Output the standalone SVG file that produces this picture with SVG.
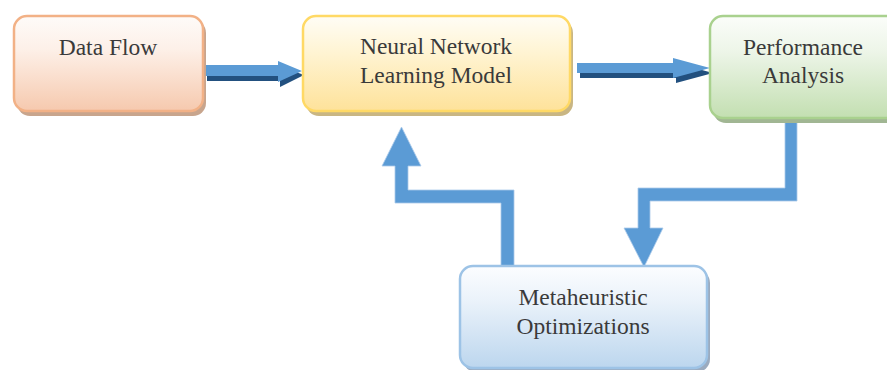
<svg xmlns="http://www.w3.org/2000/svg" width="887" height="370" viewBox="0 0 887 370">
<defs>
<linearGradient id="gOrange" x1="0" y1="0" x2="0" y2="1">
<stop offset="0" stop-color="#fefbf9"/><stop offset="0.35" stop-color="#fdf0e8"/><stop offset="1" stop-color="#f6c9ae"/>
</linearGradient>
<linearGradient id="gYellow" x1="0" y1="0" x2="0" y2="1">
<stop offset="0" stop-color="#fffdf6"/><stop offset="0.35" stop-color="#fff5d6"/><stop offset="1" stop-color="#fee29a"/>
</linearGradient>
<linearGradient id="gGreen" x1="0" y1="0" x2="0" y2="1">
<stop offset="0" stop-color="#fbfdfa"/><stop offset="0.35" stop-color="#edf5e8"/><stop offset="1" stop-color="#c3dfb1"/>
</linearGradient>
<linearGradient id="gBlue" x1="0" y1="0" x2="0" y2="1">
<stop offset="0" stop-color="#fcfdff"/><stop offset="0.35" stop-color="#eaf2fa"/><stop offset="1" stop-color="#bcd6ee"/>
</linearGradient>
<style>
.lbl{font-family:"Liberation Serif","Times New Roman",serif;font-size:23.5px;fill:#3a3a3a;text-anchor:middle}
.box{stroke-width:2.5}
.flat{fill:#5b9bd5;stroke:#a9c9ea;stroke-width:0.8}
.lite{fill:#5b9bd5}
.dark{fill:#22507f}
</style>
</defs>

<g id="connectors">
<!-- Data Flow -> Neural -->
<polygon class="dark" points="207,70 280,70 280,66 304,75 280,87 280,81 207,81"/>
<polygon class="lite" points="205,65 278,65 278,61 302,71 278,82 278,76 205,76"/>
<!-- Neural -> Performance -->
<polygon class="dark" points="580,68 676,68 676,63 713,73 676,83 676,78 580,78"/>
<polygon class="lite" points="577,63 673,63 673,58 710,68 673,78 673,73 577,73"/>
<!-- Meta -> Neural feedback -->
<polygon class="flat" points="501,266 514,266 514,190 408,190 408,166 421,166 401.5,127 382,166 395,166 395,203 501,203"/>
<!-- Performance -> Meta -->
<polygon class="flat" points="785,121 797,121 797,201 650,201 650,228 663,228 644,267 624,228 638,228 638,188 785,188"/>
</g>

<g id="data-flow">
<rect x="17" y="20" width="189" height="96" rx="13" fill="#c8a58d"/>
<rect class="box" x="14" y="16" width="189" height="95" rx="13" fill="url(#gOrange)" stroke="#f2b186"/>
<text class="lbl" x="108" y="55">Data Flow</text>
</g>

<g id="neural-network">
<rect x="306" y="20" width="267" height="96" rx="13" fill="#c9b683"/>
<rect class="box" x="303" y="16" width="267" height="95" rx="13" fill="url(#gYellow)" stroke="#ffd965"/>
<text class="lbl" x="436" y="54">Neural Network</text>
<text class="lbl" x="436" y="83">Learning Model</text>
</g>

<g id="performance">
<rect x="713" y="21" width="190" height="102" rx="13" fill="#a1b693"/>
<rect class="box" x="710" y="16" width="190" height="102" rx="13" fill="url(#gGreen)" stroke="#a9d18e"/>
<text class="lbl" x="803" y="55">Performance</text>
<text class="lbl" x="803" y="83">Analysis</text>
</g>

<g id="metaheuristic">
<rect x="463" y="270" width="247" height="102" rx="13" fill="#9babbf"/>
<rect class="box" x="460" y="266" width="247" height="102" rx="13" fill="url(#gBlue)" stroke="#9dc3e6"/>
<text class="lbl" x="583" y="305">Metaheuristic</text>
<text class="lbl" x="583" y="334">Optimizations</text>
</g>
</svg>
